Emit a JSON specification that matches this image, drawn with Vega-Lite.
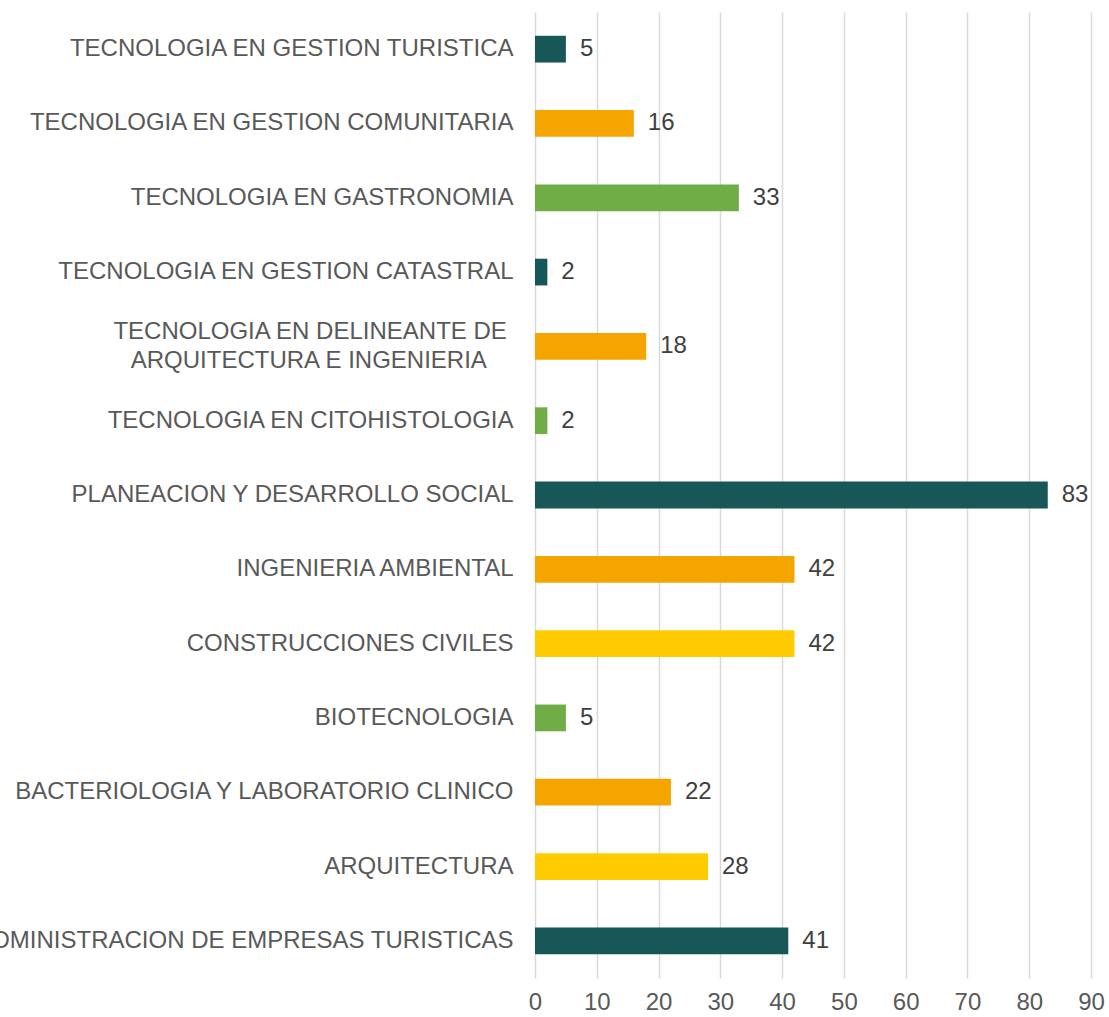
{
  "$schema": "https://vega.github.io/schema/vega-lite/v6.json",
  "autosize": {"type": "none"},
  "padding": {"left": 535, "top": 12, "right": 18, "bottom": 39},
  "width": 556,
  "height": 966,
  "background": "white",
  "config": {"view": {"stroke": null}, "font": "Liberation Sans"},
  "data": {
    "values": [
      {"programa": "TECNOLOGIA EN GESTION TURISTICA", "valor": 5, "grupo": "A"},
      {"programa": "TECNOLOGIA EN GESTION COMUNITARIA", "valor": 16, "grupo": "B"},
      {"programa": "TECNOLOGIA EN GASTRONOMIA", "valor": 33, "grupo": "C"},
      {"programa": "TECNOLOGIA EN GESTION CATASTRAL", "valor": 2, "grupo": "A"},
      {"programa": "TECNOLOGIA EN DELINEANTE DE\u00a0\u200b|ARQUITECTURA E INGENIERIA\u00a0\u00a0\u00a0\u00a0\u200b", "valor": 18, "grupo": "B"},
      {"programa": "TECNOLOGIA EN CITOHISTOLOGIA", "valor": 2, "grupo": "C"},
      {"programa": "PLANEACION Y DESARROLLO SOCIAL", "valor": 83, "grupo": "A"},
      {"programa": "INGENIERIA AMBIENTAL", "valor": 42, "grupo": "B"},
      {"programa": "CONSTRUCCIONES CIVILES", "valor": 42, "grupo": "D"},
      {"programa": "BIOTECNOLOGIA", "valor": 5, "grupo": "C"},
      {"programa": "BACTERIOLOGIA Y LABORATORIO CLINICO", "valor": 22, "grupo": "B"},
      {"programa": "ARQUITECTURA", "valor": 28, "grupo": "D"},
      {"programa": "ADMINISTRACION DE EMPRESAS TURISTICAS", "valor": 41, "grupo": "A"}
    ]
  },
  "encoding": {
    "y": {
      "field": "programa",
      "type": "nominal",
      "sort": null,
      "scale": {"paddingInner": 0.64, "paddingOuter": 0.32},
      "axis": {
        "title": null,
        "domain": false,
        "ticks": false,
        "labelPadding": 22,
        "labelFontSize": 24,
        "labelColor": "#595959",
        "labelLimit": 1000,
        "labelLineHeight": 29,
        "labelOffset": {"condition": {"test": "indexof(datum.label, '|') >= 0", "value": -14}, "value": 0},
        "labelExpr": "split(datum.label, '|')"
      }
    },
    "x": {
      "field": "valor",
      "type": "quantitative",
      "scale": {"domain": [0, 90], "nice": false},
      "axis": {
        "title": null,
        "domain": false,
        "ticks": false,
        "values": [0, 10, 20, 30, 40, 50, 60, 70, 80, 90],
        "grid": true,
        "gridColor": "#d9d9d9",
        "gridWidth": 1.5,
        "labelFontSize": 24,
        "labelColor": "#595959",
        "labelPadding": 12,
        "labelFlush": false
      }
    }
  },
  "layer": [
    {
      "mark": {"type": "bar"},
      "encoding": {
        "color": {
          "field": "grupo",
          "type": "nominal",
          "scale": {"domain": ["A", "B", "C", "D"], "range": ["#185757", "#f5a500", "#70ad47", "#ffcc00"]},
          "legend": null
        }
      }
    },
    {
      "mark": {"type": "text", "align": "left", "dx": 14, "fontSize": 24, "color": "#404040", "baseline": "middle"},
      "encoding": {"text": {"field": "valor", "type": "quantitative"}}
    }
  ]
}
